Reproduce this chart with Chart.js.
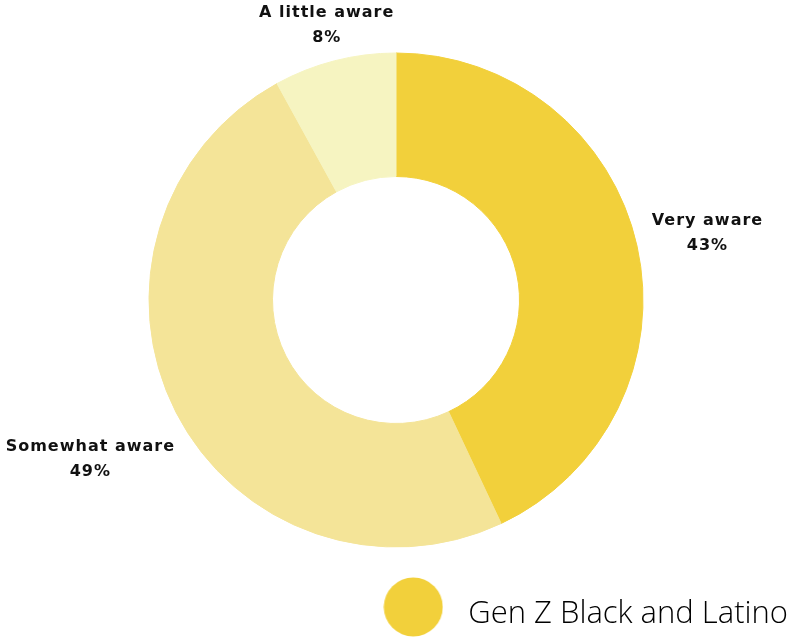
<!DOCTYPE html>
<html lang="en">
<head>
<meta charset="UTF-8">
<meta name="viewport" content="width=device-width, initial-scale=1.0">
<title>Awareness - Gen Z Black and Latino</title>
<script src="https://cdn.jsdelivr.net/npm/chart.js"></script>
<style>
    html, body {
        margin: 0;
        padding: 0;
        background: #fff;
    }
    #awareChart {
        display: block;
    }
</style>
</head>
<body>
<canvas id="awareChart" width="792" height="638"></canvas>

<script>
    // data
    var categories = ['Very aware', 'Somewhat aware', 'A little aware'];
    var shares = [43, 49, 8];
    var seriesName = 'Gen Z Black and Latino';

    var sliceColors = ['#f2d03b', '#f4e498', '#f6f4c1'];
    var labelFont = 'bold 16px "DejaVu Sans"';
    var lineGap = 25;
    var labelOffset = 10;
    // small per-slice tweaks to the label position [dx, dy]
    var labelNudge = [[5, -5], [8, 30], [12, -1]];

    var legendFontSize = 31;
    var swatchWidth = 79;
    var swatchLift = 7;

    // big round swatch for the legend
    var dot = document.createElement('canvas');
    dot.width = 60;
    dot.height = 60;
    var dctx = dot.getContext('2d');
    dctx.fillStyle = sliceColors[0];
    dctx.beginPath();
    dctx.arc(30, 30, 29.5, 0, Math.PI * 2);
    dctx.fill();

    // the legend box only reserves room; the swatch is painted by fullSwatch
    var blank = document.createElement('canvas');
    blank.width = 1;
    blank.height = 1;

    // two-line label (name + percent) outside each slice
    var sliceLabels = {
        id: 'sliceLabels',
        afterDatasetsDraw: function(chart) {
            var ctx = chart.ctx;
            var meta = chart.getDatasetMeta(0);
            var values = chart.data.datasets[0].data;
            ctx.save();
            ctx.font = labelFont;
            ctx.letterSpacing = '1px';
            ctx.fillStyle = '#111';
            ctx.textAlign = 'center';
            ctx.textBaseline = 'middle';
            meta.data.forEach(function(arc, i) {
                var p = arc.getProps(['x', 'y', 'startAngle', 'endAngle', 'outerRadius'], true);
                var mid = (p.startAngle + p.endAngle) / 2;
                var vx = Math.cos(mid), vy = Math.sin(mid);
                var lines = [chart.data.labels[i], values[i] + '%'];
                var w = Math.max(ctx.measureText(lines[0]).width, ctx.measureText(lines[1]).width);
                var h = lineGap * 2;
                var vs = 1 / Math.max(Math.abs(vx), Math.abs(vy));
                var r = p.outerRadius + labelOffset;
                var cx = p.x + vx * r + vx * vs * w / 2 + labelNudge[i][0];
                var cy = p.y + vy * r + vy * vs * h / 2 + labelNudge[i][1];
                ctx.fillText(lines[0], cx, cy - lineGap / 2);
                ctx.fillText(lines[1], cx, cy + lineGap / 2);
            });
            ctx.restore();
        }
    };

    // the legend clips to its own box, so the large swatch is painted here, unclipped
    var fullSwatch = {
        id: 'fullSwatch',
        afterDraw: function(chart) {
            var hb = chart.legend && chart.legend.legendHitBoxes;
            if (!hb || !hb.length) return;
            var cx = hb[0].left + swatchWidth / 2;
            var cy = hb[0].top + legendFontSize / 2 - swatchLift;
            chart.ctx.drawImage(dot, cx - dot.width / 2, cy - dot.height / 2);
        }
    };

    var ctx = document.getElementById('awareChart').getContext('2d');
    var awareChart = new Chart(ctx, {
        type: 'doughnut',
        data: {
            labels: categories,
            datasets: [{
                label: seriesName,
                data: shares,
                backgroundColor: sliceColors,
                borderColor: sliceColors,
                borderWidth: 1
            }]
        },
        options: {
            responsive: false,
            animation: false,
            events: [],
            radius: 247,
            cutout: '50%',
            layout: {
                padding: { top: 11.5, bottom: -1.5, left: -4, right: -6 }
            },
            plugins: {
                tooltip: { enabled: false },
                legend: {
                    position: 'bottom',
                    align: 'end',
                    labels: {
                        usePointStyle: true,
                        pointStyleWidth: swatchWidth,
                        padding: 10,
                        color: '#1a1a1a',
                        font: { family: 'Open Sans', size: legendFontSize, weight: '300' },
                        generateLabels: function(chart) {
                            return [{
                                text: seriesName,
                                pointStyle: blank,
                                fillStyle: sliceColors[0],
                                strokeStyle: sliceColors[0],
                                lineWidth: 0,
                                hidden: false,
                                datasetIndex: 0
                            }];
                        }
                    }
                }
            }
        },
        plugins: [sliceLabels, fullSwatch]
    });
</script>
</body>
</html>
